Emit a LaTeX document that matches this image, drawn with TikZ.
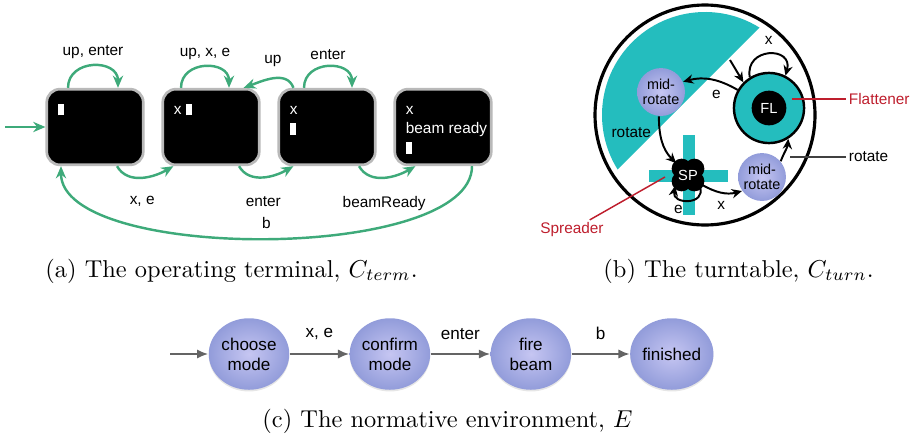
\documentclass[tikz,border=0pt]{standalone}
\usepackage{fontspec}
\newfontfamily\diagsf{Liberation Sans}
\usepackage{tikz}
\usetikzlibrary{arrows.meta,positioning,calc}
\usetikzlibrary{shapes.geometric}
\usetikzlibrary{shadows}

\definecolor{termgreen}{RGB}{62,170,122}
\definecolor{turnteal}{RGB}{36,189,190}
\definecolor{labelred}{RGB}{190,30,45}
\definecolor{envgray}{RGB}{100,100,100}
\definecolor{bubblein}{RGB}{198,198,242}
\definecolor{bubbleout}{RGB}{146,156,218}

\newcommand{\cur}{\rule[-0.4pt]{2.5pt}{4.9pt}}
\newcommand{\toprow}{\rule{0pt}{5pt}}

\begin{document}
\begin{tikzpicture}[x=0.0144cm,y=0.0144cm,node distance=2.03cm,on grid,>={Stealth[length=5pt,width=4.2pt]},
    termbox/.style={rectangle,rounded corners=0.19cm,fill=black,draw=gray!55,line width=1.1pt,minimum width=1.39cm,minimum height=1.09cm},
    scrtext/.style={anchor=north west,inner sep=0pt,align=left,text=white,font=\diagsf\fontsize{6.3}{7.8}\selectfont},
    termarrow/.style={->,draw=termgreen,line width=1pt,every node/.style={font=\diagsf\fontsize{6.3}{7.6}\selectfont}},
    turnarrow/.style={-{Stealth[length=4.2pt,width=3.8pt]},line width=0.8pt,every node/.style={font=\diagsf\fontsize{6.3}{7.6}\selectfont}},
    envarrow/.style={-{Latex[length=4.6pt,width=3.8pt]},draw=envgray,line width=0.8pt,every node/.style={font=\diagsf\fontsize{7}{8.4}\selectfont}},
    envstate/.style={ellipse,minimum width=1.16cm,minimum height=1.03cm,inner sep=0pt,align=center,inner color=bubblein,outer color=bubbleout,drop shadow={opacity=0.2,shadow xshift=0pt,shadow yshift=-0.7pt},font=\diagsf\fontsize{7}{8.2}\selectfont},
    midstate/.style={circle,minimum size=0.69cm,inner sep=0pt,align=center,inner color=bubblein,outer color=bubbleout,font=\diagsf\fontsize{5.9}{6.2}\selectfont},
    flring/.style={circle,minimum size=1.01cm,fill=turnteal,draw=black,line width=1pt},
    flcore/.style={circle,minimum size=0.5cm,inner sep=0pt,fill=black,text=white,font=\diagsf\fontsize{6}{7}\selectfont},
    spnode/.style={circle,minimum size=0.47cm,inner sep=0pt,text=white,font=\diagsf\fontsize{6}{7}\selectfont},
    pointer/.style={draw=black!75,line width=0.6pt},
    redline/.style={draw=labelred,line width=0.6pt},
    sidelabel/.style={font=\diagsf\fontsize{6.3}{7.6}\selectfont,inner sep=1pt},
    subcap/.style={inner sep=0pt,anchor=west,font=\fontsize{10}{12}\selectfont}]
\useasboundingbox (0,0) rectangle (913,-437);

% (a) operating terminal
\node[termbox] (t1) at (95,-127) {};
\node[termbox] (t2) at (211,-127) {};
\node[termbox] (t3) at (327,-127) {};
\node[termbox] (t4) at (443,-127) {};
\node[scrtext] (s1) at ($(t1.north west)+(12,-14)$) {\toprow\cur};
\node[scrtext] (s2) at ($(t2.north west)+(12,-14)$) {\toprow x \cur};
\node[scrtext] (s3) at ($(t3.north west)+(12,-14)$) {\toprow x\\\cur};
\node[scrtext] (s4) at ($(t4.north west)+(12,-14)$) {\toprow x\\beam ready\\\cur};

\coordinate (tstart) at (5,-127);
\draw[termarrow] (tstart) -- (t1);
\draw[termarrow] ($(t1.north)+(-27,0)$) to[out=90,in=90,looseness=1.5] node[above=-1pt] {up, enter} ($(t1.north)+(23,0)$);
\draw[termarrow] ($(t2.north)+(-30,0)$) to[out=90,in=90,looseness=1.5] node[above=-1pt] {up, x, e} ($(t2.north)+(18,0)$);
\draw[termarrow] ($(t3.north)+(-23,0)$) to[out=90,in=90,looseness=1.5] node[above=-1pt] {enter} ($(t3.north)+(25,0)$);
\draw[termarrow] ($(t3.north west)+(16,0)$) to[out=110,in=20] node[above=1pt] {up} ($(t2.north east)+(-17,0)$);
\draw[termarrow] ($(t1.south)+(22,0)$) to[out=-60,in=-150] node[below=4pt] {x, e} ($(t2.south west)+(12,0)$);
\draw[termarrow] ($(t2.south)+(28,0)$) to[out=-60,in=-150] node[below=4pt] {enter} ($(t3.south west)+(16,0)$);
\draw[termarrow] ($(t3.south)+(32,0)$) to[out=-60,in=-150] node[below=4pt] {beamReady} ($(t4.south west)+(22,0)$);
\draw[termarrow] ($(t4.south)+(29,0)$) to[out=-90,in=-90,looseness=0.6] node[above=0pt] {b} ($(t1.south)+(-34,0)$);

\node[subcap] (capa) at (45,-271) {(a) The operating terminal, $C_{term}$.};

% (b) turntable
\fill[turnteal] (705,-115) ++(58:103) arc[start angle=58,end angle=212,radius=103] -- cycle;
\draw[line width=1.3pt] (705,-115) circle[radius=110];
\fill[turnteal] (683,-135) rectangle (695,-215);
\fill[turnteal] (649,-170) rectangle (728,-182);
\foreach \a in {45,135,225,315}
    \fill[black] (688,-175) ++(\a:9) circle[radius=10];
\node[spnode] (sp) at (688,-175) {SP};

\node[flring] (fl) at (769,-108) {};
\node[flcore] (flc) at (fl) {FL};
\node[midstate] (mra) at (661,-92) {mid-\\rotate};
\node[midstate] (mrb) at (762,-177) {mid-\\rotate};

\coordinate (flin) at (730,-60);
\draw[turnarrow] (flin) -- (fl.135);
\draw[turnarrow] (fl.122) to[out=100,in=75,looseness=2.2] node[above] {x} (fl.63);
\draw[turnarrow] (fl.150) to[out=150,in=15] node[below,pos=0.4] {e} (mra.25);
\draw[turnarrow] (mra.265) to[out=-90,in=135] node[left,pos=0.3] {rotate} (sp.135);
\draw[turnarrow] (sp.-45) to[out=-70,in=-100,looseness=2] node[below,pos=0.75] {e} (sp.-140);
\draw[turnarrow] (sp.-35) to[out=-30,in=195] node[below] {x} (mrb.215);
\draw[turnarrow] (mrb.40) to[out=70,in=-95] (fl.-58);

\node[sidelabel,anchor=west] (rotlbl) at (846,-157) {rotate};
\coordinate (rotpt) at (790,-157);
\draw[pointer] (rotpt) -- (rotlbl.west);
\node[sidelabel,anchor=west,text=labelred] (flatlbl) at (846,-99) {Flattener};
\coordinate (flpt) at (792,-99);
\draw[redline] (flpt) -- (flatlbl.west);
\node[sidelabel,text=labelred] (spreadlbl) at (572,-230) {Spreader};
\coordinate (sppt) at (665,-177);
\draw[redline] (sppt) -- (spreadlbl);

\node[subcap] (capb) at (603,-271) {(b) The turntable, $C_{turn}$.};

% (c) normative environment
\node[envstate] (choose) at (249,-354) {choose\\mode};
\node[envstate,right=of choose] (confirm) {confirm\\mode};
\node[envstate,right=of confirm] (fire) {fire\\beam};
\node[envstate,right=of fire] (finished) {finished};
\coordinate[left=0.55cm of choose.west] (envstart);

\draw[envarrow] (envstart) -- (choose);
\draw[envarrow] (choose) -- node[above=2pt] {x, e} (confirm);
\draw[envarrow] (confirm) -- node[above=2pt] {enter} (fire);
\draw[envarrow] (fire) -- node[above=2pt] {b} (finished);

\node[subcap] (capc) at (262,-421) {(c) The normative environment, $E$};
\end{tikzpicture}
\end{document}
